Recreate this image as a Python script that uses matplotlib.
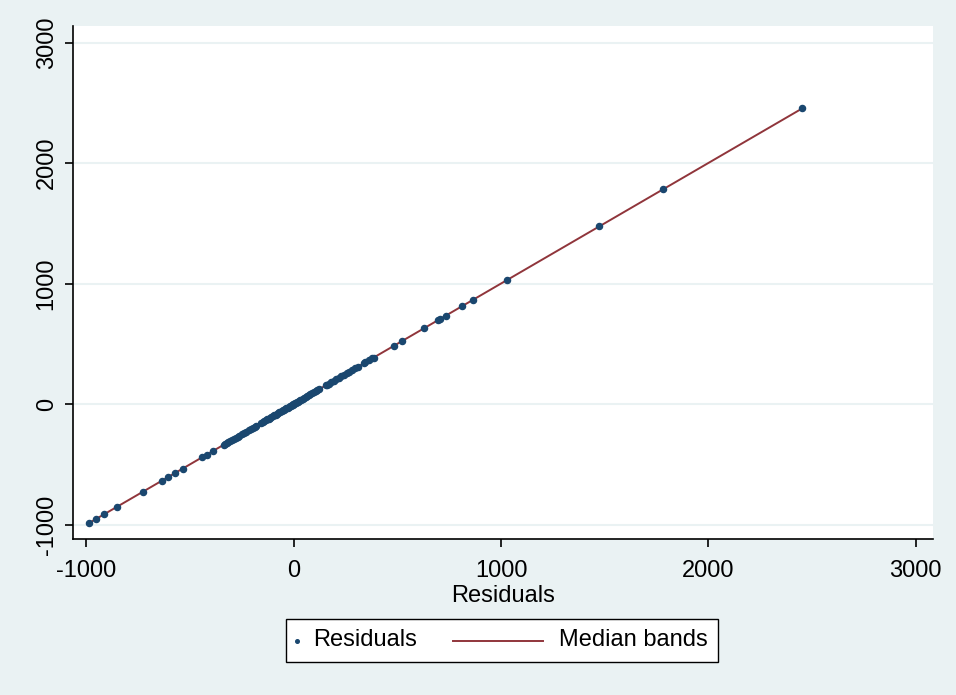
import matplotlib
matplotlib.use("Agg")
import matplotlib.pyplot as plt
import numpy as np
from matplotlib.lines import Line2D
from matplotlib.offsetbox import (AnchoredOffsetbox, DrawingArea, HPacker,
                                  TextArea)

plt.rcParams["font.family"] = ["Liberation Sans", "DejaVu Sans"]

# Residual values (plotted against themselves)
tail_low = [-988, -954, -916, -853, -728, -636, -607, -573, -535,
            -443, -419, -390, -337]
dense = [-330, -322, -315, -306, -298, -290, -281, -270, -262, -250,
         -240, -228, -215, -204, -196, -188, -183, -159, -150, -143,
         -136, -128, -121, -115, -108, -101, -95, -88, -82, -76, -70,
         -64, -58, -52, -46, -40, -35, -30, -25, -20, -15, -10, -6, -2,
         2, 6, 10, 15, 20, 25, 31, 37, 43, 50, 57, 64, 72, 80, 88, 96,
         105, 114, 124, 154, 160, 168, 180, 192, 205, 218, 230, 242,
         255, 268, 282, 296, 308, 337, 345, 362, 378, 386]
tail_high = [482, 520, 627, 694, 704, 733, 814, 863, 1027, 1475, 1783, 2453]
residuals = np.array(sorted(tail_low + dense + tail_high), dtype=float)

xticks = [-1000, 0, 1000, 2000, 3000]
yticks = [-1000, 0, 1000, 2000, 3000]
legend_labels = ["Residuals", "Median bands"]

bg = "#eaf2f3"
navy = "#1a476f"
maroon = "#90353b"
fs = 17

fig = plt.figure(figsize=(9.56, 6.95), dpi=100, facecolor=bg)
ax = fig.add_axes([73 / 956, 1 - 539 / 695, (933 - 73) / 956, (539 - 26) / 695])
ax.set_facecolor("white")

ax.plot(residuals, residuals, color=maroon, lw=1.4, zorder=2)
ax.plot(residuals, residuals, ls="none", marker="o", ms=4.4, color=navy, zorder=3)

ax.set_xlim(-1065, 3084)
ax.set_ylim(-1120, 3137)
ax.set_xticks(xticks)
ax.set_yticks(yticks)
ax.set_xticklabels([str(t) for t in xticks], fontsize=fs)
ax.set_yticklabels([str(t) for t in yticks], fontsize=fs, rotation=90, va="center")
ax.grid(axis="y", color=bg, lw=1.5, zorder=0)
ax.tick_params(direction="out", length=6, width=1.2, color="black")
ax.tick_params(axis="x", pad=9)
ax.tick_params(axis="y", pad=5)
for s in ["top", "right"]:
    ax.spines[s].set_visible(False)
for s in ["left", "bottom"]:
    ax.spines[s].set_linewidth(1.2)
ax.set_xlabel("Residuals", fontsize=fs, labelpad=2)

# Stata-style legend: small dot + label, then line key + label
pt = 72 / 100
da_dot = DrawingArea(16.5 * pt, 10, 0, 0)
da_dot.add_artist(Line2D([0.8 * pt], [5], marker="o", ms=2.6, color=navy, ls="none"))
da_line = DrawingArea(142 * pt, 10, 0, 0)
da_line.add_artist(Line2D([36 * pt, 126 * pt], [5, 5], color=maroon, lw=1.4))
txt_kw = dict(size=fs, color="black")
row = HPacker(children=[da_dot, TextArea(legend_labels[0], textprops=txt_kw),
                        da_line, TextArea(legend_labels[1], textprops=txt_kw)],
              align="center", pad=0, sep=0)
box = AnchoredOffsetbox(loc="center", child=row, pad=0.45, borderpad=0,
                        frameon=True, prop=dict(size=fs),
                        bbox_to_anchor=(502 / 956, 1 - 640.5 / 695),
                        bbox_transform=fig.transFigure)
box.patch.set_edgecolor("black")
box.patch.set_facecolor("white")
box.patch.set_linewidth(1.0)
box.patch.set_boxstyle("square", pad=0)
fig.add_artist(box)

fig.savefig("out.png", dpi=100, facecolor=bg)
